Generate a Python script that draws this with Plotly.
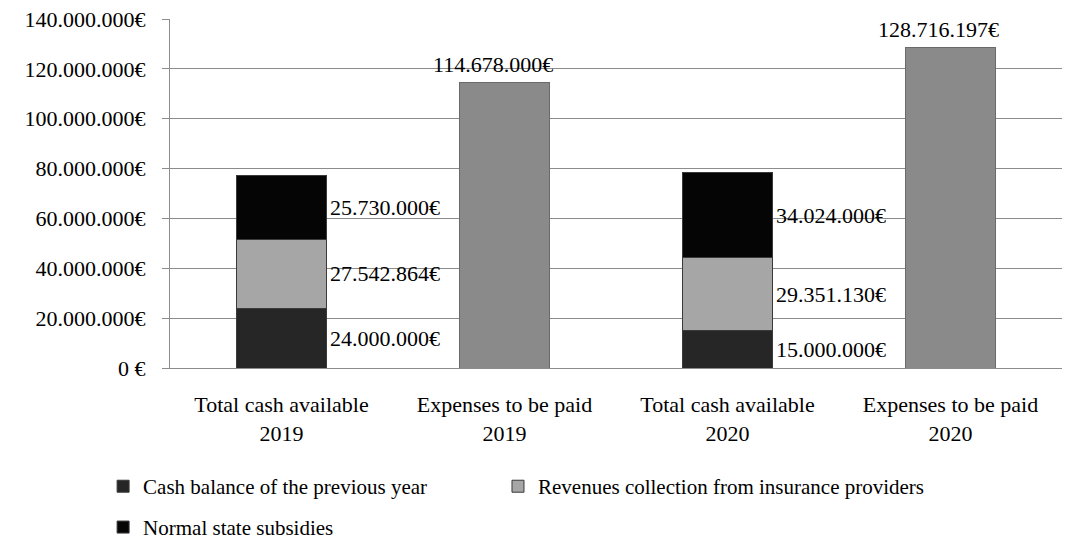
import plotly.graph_objects as go

# Categories and values (EUR)
categories = ["Total cash available<br>2019", "Expenses to be paid<br>2019",
              "Total cash available<br>2020", "Expenses to be paid<br>2020"]
cash_categories = [categories[0], categories[2]]
expense_categories = [categories[1], categories[3]]

cash_balance = [24000000, 15000000]
revenues_insurance = [27542864, 29351130]
state_subsidies = [25730000, 34024000]
expenses = [114678000, 128716197]

tick_values = [0, 20000000, 40000000, 60000000, 80000000, 100000000, 120000000, 140000000]
tick_labels = ["0 €", "20.000.000€", "40.000.000€", "60.000.000€", "80.000.000€",
               "100.000.000€", "120.000.000€", "140.000.000€"]


def euro(v):
    return f"{v:,.0f}".replace(",", ".") + "€"


FONT = "Liberation Serif"
SIZE = 22
BAR_W = 0.4

fig = go.Figure()

# One legend box per series so each entry can sit where it belongs
series = [
    ("Cash balance of the previous year", cash_balance, "#262626", "legend"),
    ("Revenues collection from insurance providers", revenues_insurance, "#a6a6a6", "legend2"),
    ("Normal state subsidies", state_subsidies, "#050505", "legend3"),
]
for name, vals, color, leg in series:
    fig.add_trace(go.Bar(
        name=name, x=cash_categories, y=vals, width=BAR_W,
        marker=dict(color=color, line=dict(color="#3a3a3a", width=1)),
        legend=leg, hoverinfo="skip",
    ))

fig.add_trace(go.Bar(
    name="Expenses", x=expense_categories, y=expenses, width=BAR_W,
    marker=dict(color="#8a8a8a", line=dict(color="#6a6a6a", width=1)),
    showlegend=False, hoverinfo="skip",
))

# Segment value labels to the right of the stacked bars
annotations = []
for j, cat in enumerate(cash_categories):
    idx = categories.index(cat)
    base = 0
    for _, vals, _, _ in series:
        v = vals[j]
        annotations.append(dict(
            x=idx + BAR_W / 2, y=base + v / 2, xref="x", yref="y",
            text=euro(v), showarrow=False, xanchor="left", yanchor="middle",
            xshift=2, font=dict(family=FONT, size=SIZE, color="#000000"),
        ))
        base += v

# Value labels above the expense bars
for cat, v in zip(expense_categories, expenses):
    annotations.append(dict(
        x=cat, y=v, xref="x", yref="y", text=euro(v), showarrow=False,
        xanchor="center", yanchor="bottom", xshift=-12, yshift=3,
        font=dict(family=FONT, size=SIZE, color="#000000"),
    ))

legend_style = dict(
    orientation="h", xanchor="left", yanchor="top", itemwidth=30,
    font=dict(family=FONT, size=21, color="#000000"),
    bgcolor="rgba(0,0,0,0)",
)

fig.update_layout(
    barmode="stack",
    width=1066, height=544,
    margin=dict(l=170, r=4, t=19, b=176, autoexpand=False),
    paper_bgcolor="white", plot_bgcolor="white",
    font=dict(family=FONT, size=SIZE, color="#000000"),
    annotations=annotations,
    showlegend=True,
    legend=dict(x=-0.075, y=-0.281, **legend_style),
    legend2=dict(x=0.3677, y=-0.281, **legend_style),
    legend3=dict(x=-0.075, y=-0.398, **legend_style),
)

fig.update_xaxes(
    type="category", categoryorder="array", categoryarray=categories,
    showline=True, linecolor="#8c8c8c", linewidth=1, automargin=False,
    ticks="", tickfont=dict(family=FONT, size=SIZE, color="#000000"),
    ticklabelstandoff=17, showgrid=False,
)
fig.update_yaxes(
    range=[0, 140000000], tickvals=tick_values, ticktext=tick_labels,
    showline=True, linecolor="#8c8c8c", linewidth=1, automargin=False,
    showgrid=True, gridcolor="#8c8c8c", gridwidth=1,
    ticks="outside", ticklen=7, tickcolor="#8c8c8c",
    ticklabelstandoff=12, zeroline=False,
    tickfont=dict(family=FONT, size=SIZE, color="#000000"),
)

fig.write_html("out.html")
